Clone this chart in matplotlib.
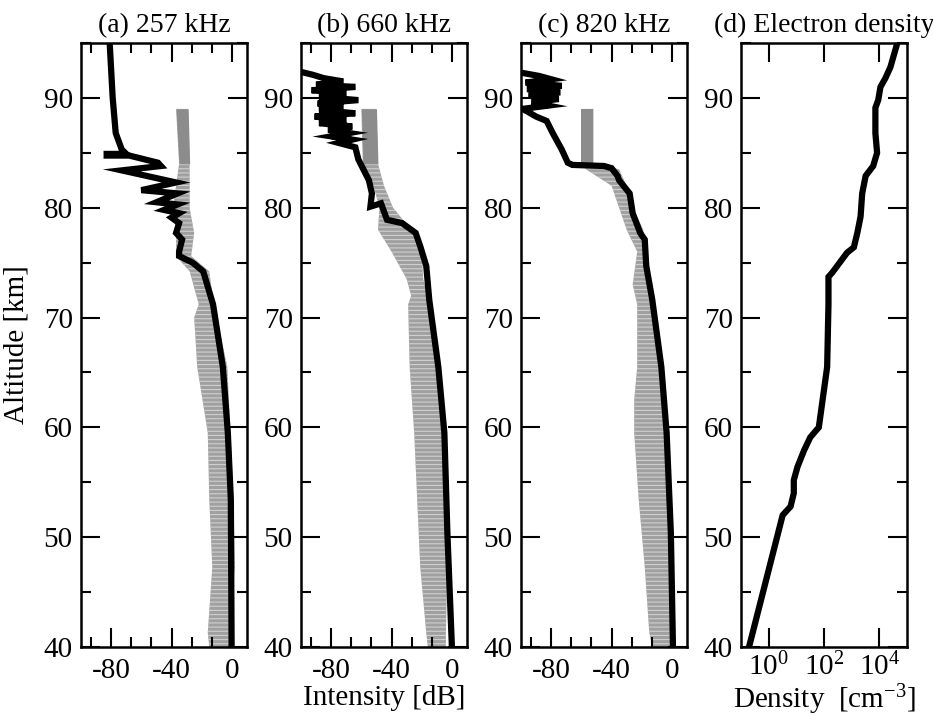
import matplotlib
matplotlib.use('Agg')
from matplotlib import pyplot as plt
from matplotlib.ticker import MultipleLocator, AutoMinorLocator, FixedLocator, LogFormatterMathtext, NullLocator

plt.rcParams['font.family'] = ['Liberation Serif', 'DejaVu Serif']
plt.rcParams['mathtext.fontset'] = 'custom'
plt.rcParams['mathtext.rm'] = 'Liberation Serif'
plt.rcParams['mathtext.it'] = 'Liberation Serif:italic'
plt.rcParams['axes.unicode_minus'] = False
plt.rcParams['hatch.linewidth'] = 0.8

# ---- panel (a) 257 kHz ----
alt_a = [95, 90, 86.8, 85.3, 84.9, 84.9, 84.75, 84.75, 84.1, 83.8, 83.4, 82.3, 81.6, 81.3,
         80.5, 80.3, 79.8, 79.5, 79.1, 78.6, 77.7, 77.1, 76.0, 75.6, 75.0, 74.2, 71.2,
         65.5, 59.5, 53.4, 40]
db_a = [-81, -79, -77, -73, -70, -83, -83, -68, -49, -47, -73, -37, -60, -36,
        -50, -36, -45, -35, -40, -35, -37, -33, -35, -35, -26, -19, -12.5,
        -6, -2.7, -0.7, -0.2]
band_alt_a = [89, 84, 80, 77.7, 75.6, 74.2, 71.2, 70, 65.5, 59.5, 53.4, 47.3, 41.3, 40]
band_lo_a = [-37, -35, -39, -37, -37, -28, -22, -25, -23, -16, -15, -13, -16, -15]
band_hi_a = [-29, -28, -28, -25, -27, -15, -12, -10, -3, -1, 1, 2, -2, -2]

# ---- panel (b) 660 kHz ----
alt_b = [92.4, 92.1, 91.8, 91.5, 91.2, 91.0, 90.7, 90.4, 90.1, 89.8, 89.5, 89.2, 88.9,
         88.6, 88.3, 88.0, 87.7, 87.4, 87.1, 86.8, 86.5, 86.2, 85.9, 85.5, 84.4, 82.5,
         81.3, 80.1, 80.4, 78.9, 78.6, 77.7, 76.5, 74.7, 71.6, 65.5, 59.5, 50.4, 40]
db_b = [-101, -92, -85, -72, -90, -64, -93, -70, -88, -62, -89, -72, -88,
        -64, -91, -70, -88, -66, -82, -68, -80, -66, -75, -64, -62, -55,
        -53, -54, -47, -43, -33, -24, -21, -17, -15, -9, -5, -3, 0]
band_alt_b = [89, 84, 82, 80, 78, 76, 73.5, 72, 71.2, 65.5, 59.5, 53.4, 47.3, 41.3, 40]
band_lo_b = [-60, -59, -52, -48, -49, -40, -30, -27, -29, -28, -25, -23, -21, -17, -16]
band_hi_b = [-50, -49, -45, -39, -27, -20, -19, -16, -13, -9, -6, -5, -3, -4, -4]

# ---- panel (c) 820 kHz ----
alt_c = [92.3, 92.0, 91.7, 91.4, 91.1, 90.8, 90.5, 90.2, 89.9, 89.6, 89.3, 89.0, 88.7,
         88.3, 87.9, 86.8, 85.3, 84.1, 83.9, 83.8, 83.6, 82.9, 82.5, 81.3, 79.5, 77.7,
         77.1, 74.7, 71.6, 65.5, 59.5, 50.4, 40]
db_c = [-100, -88, -80, -97, -73, -96, -74, -95, -75, -93, -82, -99, -95,
        -90, -83, -79, -73, -69, -66, -45, -40, -36, -35, -28, -26, -21,
        -18, -17, -13, -7, -3.5, -0.7, 0.7]
band_alt_c = [89, 84, 83.5, 82, 80, 78, 76, 73, 71.2, 65.5, 62.5, 59.5, 53.4, 47.3, 41.3, 40]
band_lo_c = [-60, -60, -57, -40, -35, -30, -23, -26, -23, -23, -25, -25, -22, -18, -15, -13]
band_hi_c = [-52, -52, -35, -30, -26, -19, -17, -15, -13, -8, -6, -4, -3, -1, -1, -1]

# ---- panel (d) electron density ----
alt_d = [95, 92.8, 91.8, 91.0, 89.8, 89.1, 86.8, 85.0, 83.8, 82.9, 81.3, 79.2, 77.7,
         76.4, 75.9, 74.1, 73.7, 71.2, 65.5, 62.5, 60.0, 59.1, 57.9, 56.4, 55.2, 54.0,
         52.8, 52.0, 40]
dens_d = [44700, 25100, 16600, 11000, 9100, 7200, 7200, 8300, 6000, 3200, 2400, 2100, 1600,
          1200, 680, 200, 145, 145, 130, 89, 65, 32, 19, 11, 8.1, 8.1,
          6.2, 3.2, 0.195]

titles = ['(a) 257 kHz', '(b) 660 kHz', '(c) 820 kHz', '(d) Electron density']

W, H = 933, 715
fig = plt.figure(figsize=(W / 100, H / 100), dpi=100)
lefts = [81, 301, 521, 741]
ax_w, top, bot = 166, 43, 647
axes = [fig.add_axes([l / W, 1 - bot / H, ax_w / W, (bot - top) / H]) for l in lefts]

fs = 21
line_kw = dict(color='black', lw=4.5, solid_joinstyle='miter', solid_capstyle='butt')

panels = [
    (alt_a, db_a, band_alt_a, band_lo_a, band_hi_a),
    (alt_b, db_b, band_alt_b, band_lo_b, band_hi_b),
    (alt_c, db_c, band_alt_c, band_lo_c, band_hi_c),
]
for ax, (alt, db, balt, blo, bhi) in zip(axes[:3], panels):
    # measured spread: dotted lower band, solid column near the top
    ax.fill_betweenx(balt, blo, bhi, facecolor='#a0a0a0', edgecolor='#d0d0d0',
                     hatch='----', lw=0, zorder=1)
    ax.fill_betweenx(balt[:2], blo[:2], bhi[:2], color='#8c8c8c', lw=0, zorder=1)
    ax.plot(db, alt, zorder=2, **line_kw)
    ax.set_xlim(-100, 10)
    ax.xaxis.set_major_locator(FixedLocator([-80, -40, 0]))
    ax.xaxis.set_minor_locator(AutoMinorLocator(3))

ax = axes[3]
ax.plot(dens_d, alt_d, **line_kw)
ax.set_xscale('log')
ax.set_xlim(1e-1, 1e5)
ax.xaxis.set_major_locator(FixedLocator([1, 1e2, 1e4]))
ax.xaxis.set_major_formatter(LogFormatterMathtext())
ax.xaxis.set_minor_locator(NullLocator())

for ax, t in zip(axes, titles):
    ax.set_ylim(40, 95)
    ax.yaxis.set_major_locator(MultipleLocator(10))
    ax.yaxis.set_minor_locator(MultipleLocator(5))
    ax.tick_params(which='both', direction='in', top=True, right=True, width=1.5,
                   labelsize=fs)
    ax.tick_params(which='major', length=14)
    ax.tick_params(which='minor', length=7)
    ax.tick_params(axis='x', pad=8)
    ax.tick_params(axis='y', pad=6)
    for s in ax.spines.values():
        s.set_linewidth(1.8)
    ax.set_title(t, fontsize=20, pad=8)

axes[3].tick_params(axis='x', pad=4)

axes[0].set_ylabel('Altitude [km]', fontsize=fs)
axes[0].yaxis.set_label_coords(-0.31, 0.5)
axes[1].set_xlabel('Intensity [dB]', fontsize=fs)
axes[1].xaxis.set_label_coords(0.5, -0.063)
axes[3].set_xlabel('Density  [cm$^{-3}$]', fontsize=fs)
axes[3].xaxis.set_label_coords(0.5, -0.058)

fig.savefig('out.png', dpi=100)
